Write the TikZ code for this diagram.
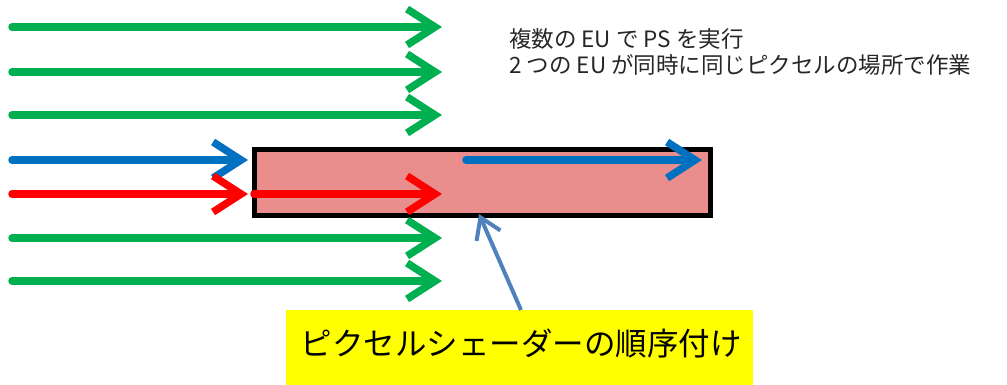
\documentclass[tikz,border=0pt]{standalone}
\usepackage{fontspec}
\setmainfont{Noto Sans CJK JP}
\usetikzlibrary{arrows.meta}
\definecolor{ggreen}{HTML}{00B050}
\definecolor{bblue}{HTML}{0070C0}
\definecolor{rred}{HTML}{FF0000}
\definecolor{pinkfill}{HTML}{E98D8D}
\definecolor{steel}{HTML}{4F81BD}
\definecolor{yel}{HTML}{FFFF00}
\tikzset{
  flow/.style={line width=7.5pt, line cap=round, -{Straight Barb[length=28pt,width=36pt,line width=7.5pt]}},
  gflow/.style={flow, draw=ggreen},
  bflow/.style={flow, draw=bblue},
  rflow/.style={flow, draw=rred},
}
\begin{document}
\begin{tikzpicture}[x=1pt,y=-1pt]
\useasboundingbox (0,0) rectangle (1007,385);
% rectangle
\node[draw=black, line width=5pt, fill=pinkfill, minimum width=456pt, minimum height=66pt, inner sep=0pt, anchor=north west] (box) at (252,147) {};
% green arrows
\coordinate (g1s) at (12,27); \coordinate (g1e) at (442,27);
\coordinate (g2s) at (12,72); \coordinate (g2e) at (442,72);
\coordinate (g3s) at (12,115); \coordinate (g3e) at (442,115);
\coordinate (g4s) at (12,238); \coordinate (g4e) at (442,238);
\coordinate (g5s) at (12,281); \coordinate (g5e) at (442,281);
\draw[gflow] (g1s) -- (g1e);
\draw[gflow] (g2s) -- (g2e);
\draw[gflow] (g3s) -- (g3e);
\draw[gflow] (g4s) -- (g4e);
\draw[gflow] (g5s) -- (g5e);
% blue and red
\coordinate (bs) at (12,160); \coordinate (be) at (248,160);
\coordinate (rs) at (12,194); \coordinate (re) at (248,194);
\draw[bflow] (bs) -- (be);
\draw[rflow] (rs) -- (re);
\coordinate (b2s) at (466,160); \coordinate (b2e) at (702,160);
\draw[bflow] (b2s) -- (b2e);
\coordinate (r2s) at (254,194); \coordinate (r2e) at (442,194);
\draw[rflow] (r2s) -- (r2e);
% label
\node[fill=yel, minimum width=467pt, minimum height=76pt, inner sep=0pt, anchor=north west] (labbox) at (286,310) {};
\node[font=\fontsize{31.5pt}{35pt}\selectfont, inner sep=0pt] (lab) at (521,343) {ピクセルシェーダーの順序付け};
\coordinate (tip) at (479,214);
\coordinate (tail) at (521,310);
\draw[steel, line width=4pt, -{Straight Barb[length=20pt,width=26pt,line width=4pt]}] (tail) -- (tip);
% top text
\node[anchor=west, align=left, text=black!85, font=\fontsize{22.5pt}{26pt}\selectfont, inner sep=0pt] (note) at (509,52) {複数の EU で PS を実行\\2 つの EU が同時に同じピクセルの場所で作業};
\end{tikzpicture}
\end{document}
